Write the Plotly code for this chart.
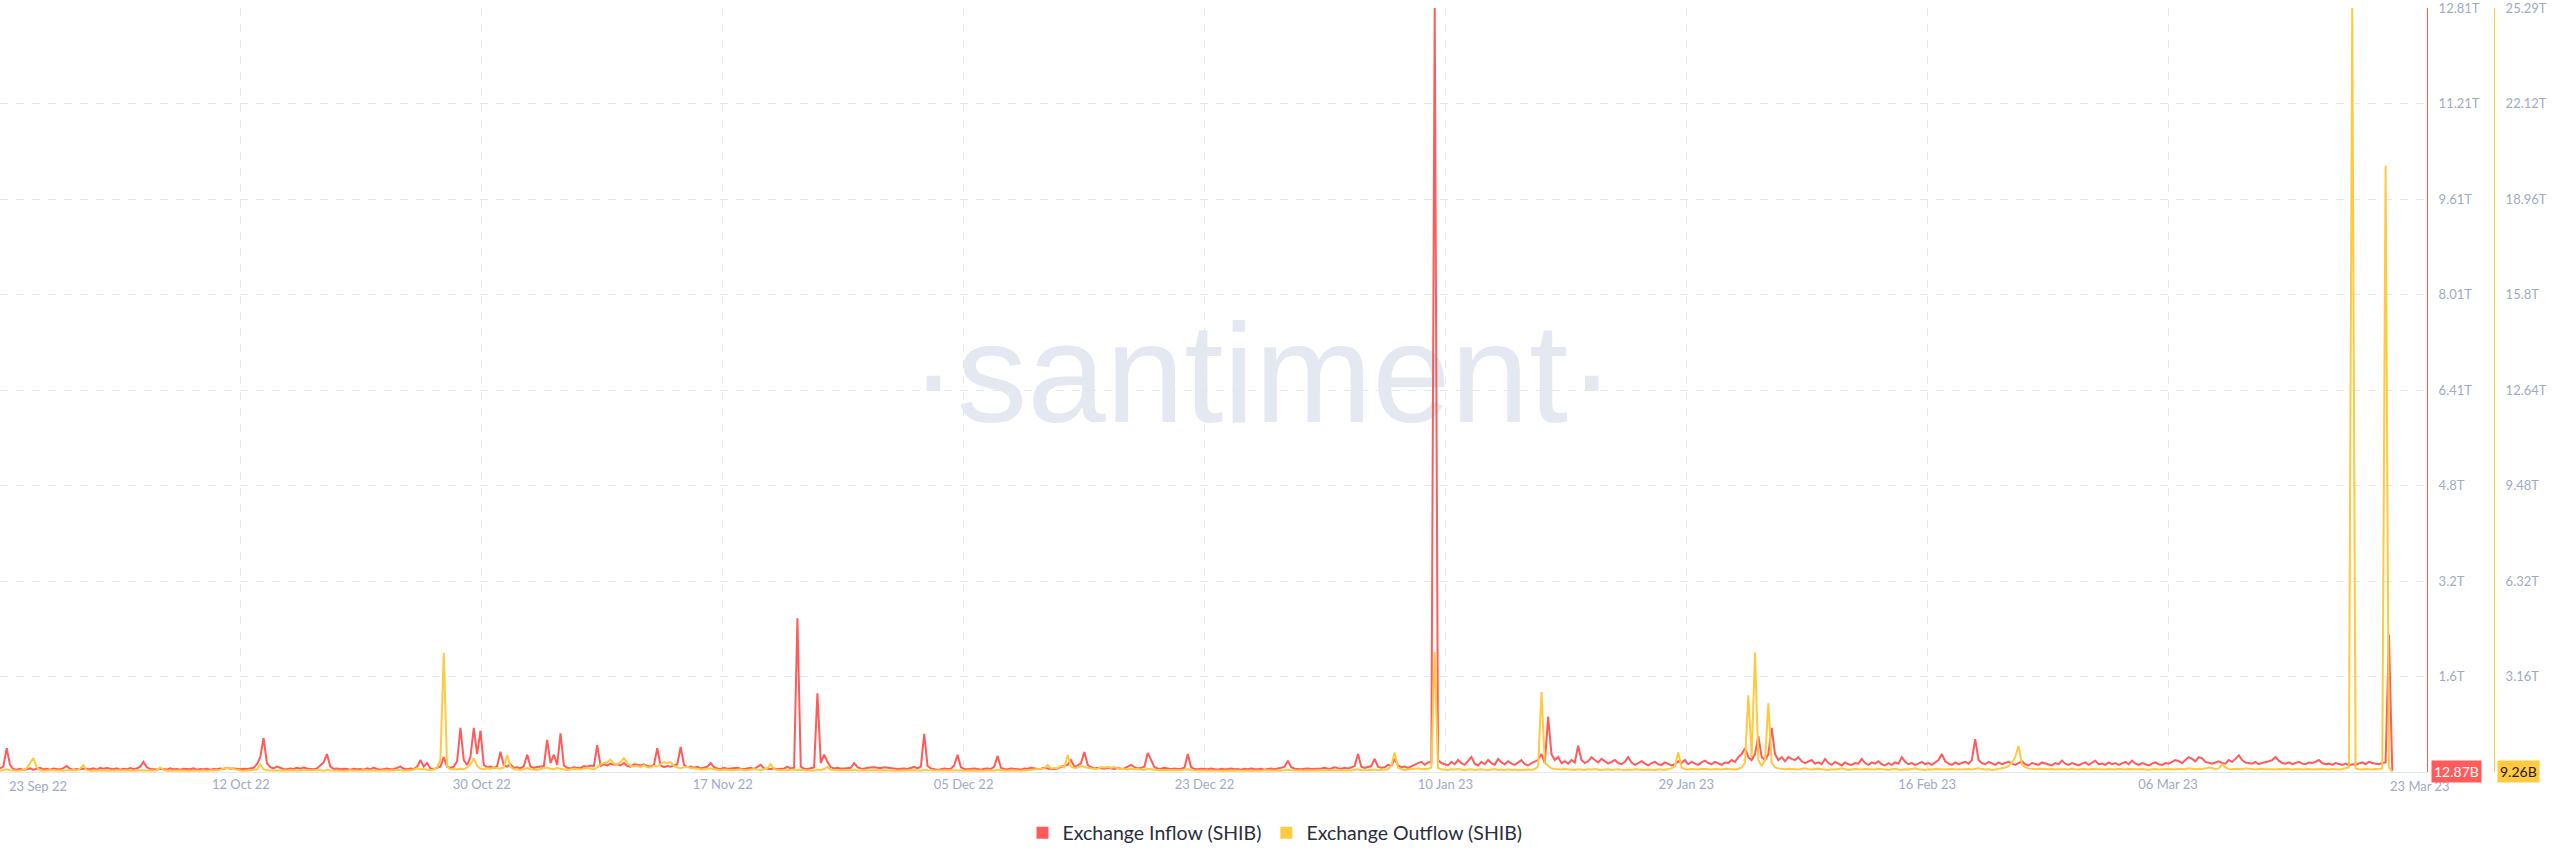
import plotly.graph_objects as go
import pandas as pd

# ---------------- data (values in billions of SHIB, 6-hour steps) ----------------
START = "2022-09-24 12:00"
STEP = "6h"

inflow_sep = [60, 90, 400, 120, 50, 40, 55, 35, 45, 60, 40, 50, 70, 45, 55, 40, 60, 50, 45, 65,
              100, 55, 40, 50, 45, 60]
outflow_sep = [40, 55, 90, 60, 45, 40, 50, 70, 120, 300, 460, 160, 60, 45, 40, 55, 60, 45, 50, 40,
               60, 45, 55, 60, 110, 230]

inflow_oct = [55, 45, 60, 40, 70, 55, 65, 50, 45, 60,
              40, 55, 45, 65, 50, 60, 90, 170, 80, 50,
              45, 40, 55, 50, 40, 60, 45, 50, 40, 55,
              50, 45, 60, 40, 50, 45, 55, 40, 50, 45,
              60, 50, 70, 55, 60, 50, 45, 55, 50, 60,
              70, 130, 250, 570, 150, 80, 60, 90, 70, 50,
              45, 60, 50, 70, 55, 75, 60, 50, 45, 60,
              110, 160, 300, 90, 50, 60, 45, 55, 50, 40,
              55, 45, 50, 40, 60, 45, 75, 50, 40, 55,
              60, 45, 50, 70, 90, 55, 45, 60, 50, 85,
              200, 90, 150, 60, 50, 70, 90, 250, 85, 70,
              90, 180, 740, 200, 120, 250, 740, 300, 690, 120,
              80, 90, 70, 100]
outflow_oct = [60, 45, 50, 40, 55, 60, 45, 50, 40, 55,
               45, 50, 60, 40, 50, 45, 55, 60, 45, 50,
               40, 60, 150, 70, 45, 50, 40, 55, 45, 50,
               45, 40, 55, 50, 45, 60, 40, 50, 55, 45,
               70, 110, 130, 120, 90, 60, 50, 45, 55, 50,
               60, 80, 250, 90, 55, 45, 50, 40, 55, 45,
               50, 60, 45, 50, 40, 55, 60, 45, 50, 55,
               60, 45, 70, 50, 45, 55, 40, 50, 45, 60,
               50, 45, 40, 55, 50, 45, 60, 50, 40, 55,
               45, 60, 50, 70, 55, 45, 60, 50, 80, 120,
               90, 100, 70, 60, 80, 150, 400, 3940, 180, 90,
               100, 80, 110, 90, 150, 250, 460, 200, 110, 90,
               120, 100, 150, 130]

inflow_nov = [340, 110, 90, 130, 70, 80, 60, 100, 290, 90,
              70, 85, 90, 100, 540, 150, 290, 120, 650, 110,
              70, 60, 80, 70, 65, 100, 90, 110, 100, 450,
              100, 130, 110, 140, 120, 130, 110, 150, 100, 90,
              130, 120, 110, 130, 100, 90, 120, 400, 110, 80,
              100, 90, 110, 130, 420, 120, 80, 90, 70, 85,
              60, 70, 90, 150, 80, 60, 50, 70, 55, 60,
              65, 70, 55, 50, 60, 70, 50, 80, 120, 60,
              55, 50, 60, 45, 55, 60, 85, 60, 70, 2580,
              90, 55, 50, 60, 75, 1320, 150, 290, 170, 80,
              60, 70, 55, 60, 65, 70, 150, 80, 60, 55,
              70, 75, 80, 70, 65, 80, 70, 60, 55, 50]
outflow_nov = [110, 150, 560, 180, 90, 80, 70, 100, 130, 90,
               80, 70, 100, 120, 150, 110, 90, 130, 100, 80,
               70, 90, 110, 100, 80, 120, 140, 110, 90, 150,
               250, 300, 330, 400, 280, 250, 330, 460, 300, 200,
               180, 200, 170, 220, 160, 150, 200, 180, 250, 330,
               300, 330, 200, 150, 130, 160, 170, 130, 110, 100,
               90, 80, 100, 120, 90, 70, 60, 80, 60, 55,
               60, 70, 90, 60, 55, 80, 100, 70, 60, 90,
               120, 265, 100, 60, 50, 55, 60, 70, 80, 60,
               70, 55, 50, 60, 45, 80, 60, 100, 165, 70,
               55, 60, 50, 45, 55, 60, 70, 50, 45, 50,
               45, 50, 60, 55, 50, 45, 55, 60, 50, 45]

inflow_dec = [55, 60, 50, 70, 85, 60, 90, 640, 100, 60,
              50, 35, 45, 60, 50, 55, 110, 290, 80, 50,
              45, 55, 60, 50, 40, 55, 60, 50, 90, 270,
              70, 50, 45, 60, 55, 50, 40, 60, 55, 70,
              60, 50, 55, 70, 60, 45, 50, 60, 85, 100,
              120, 200, 90, 110, 150, 335, 120, 80, 60, 70,
              60, 55, 70, 60, 50, 65, 55, 60, 85, 120,
              80, 60, 70, 90, 320, 200, 80, 60, 55, 70,
              55, 45, 60, 50, 55, 70, 300, 80, 50, 45,
              55, 50, 45, 60, 50, 40, 55, 45, 50, 60,
              45, 50, 40, 55, 45, 60, 50, 45, 55, 40,
              50, 60, 45, 55, 70, 90, 190, 80, 55, 50,
              45, 55, 60, 50]
outflow_dec = [45, 50, 55, 45, 50, 60, 45, 70, 55, 50,
               45, 40, 50, 55, 45, 50, 60, 45, 50, 40,
               50, 45, 55, 40, 50, 45, 60, 50, 45, 70,
               55, 50, 45, 60, 50, 55, 45, 50, 60, 70,
               80, 90, 100, 120, 230, 110, 130, 130, 200, 150,
               560, 180, 130, 150, 200, 160, 140, 120, 100, 110,
               165, 150, 165, 140, 165, 120, 100, 90, 80, 110,
               90, 100, 80, 70, 110, 90, 80, 60, 70, 65,
               60, 55, 70, 60, 55, 80, 90, 60, 55, 50,
               45, 50, 55, 45, 50, 40, 45, 50, 55, 45,
               40, 50, 45, 55, 50, 45, 40, 50, 45, 55,
               50, 45, 55, 50, 45, 60, 70, 55, 50, 45,
               50, 55, 45, 50]

inflow_jan = [50, 55, 60, 70, 55, 60, 80, 65, 55, 70,
              60, 75, 100, 300, 90, 70, 80, 100, 220, 90,
              70, 80, 120, 100, 220, 110, 80, 90, 70, 100,
              130, 150, 170, 120, 160, 170, 12812, 200, 150, 130,
              110, 170, 130, 200, 150, 120, 180, 250, 140, 110,
              170, 130, 200, 150, 120, 220, 160, 130, 180, 140,
              120, 160, 200, 130, 110, 150, 170, 200, 300, 150,
              930, 300, 200, 250, 150, 180, 140, 200, 160, 440,
              200, 150, 180, 250, 200, 160, 220, 180, 140, 170,
              200, 150, 130, 170, 250, 160, 120, 150, 180, 140,
              110, 150, 170, 130, 120, 160, 140, 110, 130, 180,
              150, 200, 130, 170, 140, 120, 160, 190, 150, 130,
              170, 140, 120, 160]
outflow_jan = [50, 45, 55, 60, 50, 45, 55, 60, 50, 55,
               60, 50, 70, 90, 60, 55, 65, 70, 80, 60,
               70, 60, 90, 200, 650, 150, 90, 70, 80, 90,
               100, 120, 90, 110, 100, 150, 3970, 130, 90, 80,
               70, 90, 80, 100, 70, 60, 80, 90, 70, 80,
               90, 70, 60, 80, 100, 70, 80, 60, 90, 70,
               80, 60, 70, 90, 80, 70, 100, 180, 2650, 300,
               200, 120, 100, 90, 80, 100, 90, 80, 70, 90,
               80, 70, 90, 80, 100, 70, 60, 80, 90, 70,
               80, 90, 70, 60, 80, 70, 90, 80, 60, 70,
               80, 70, 60, 90, 80, 70, 100, 120, 200, 650,
               150, 90, 80, 100, 90, 80, 110, 100, 90, 80,
               100, 90, 80, 110]

inflow_feb = [150, 200, 170, 250, 300, 400, 250, 200, 300, 600,
              250, 200, 300, 740, 300, 200, 250, 180, 250, 220,
              200, 250, 180, 150, 170, 200, 140, 160, 130, 220,
              150, 120, 170, 140, 110, 160, 130, 120, 150, 140,
              220, 150, 120, 160, 140, 180, 130, 110, 150, 120,
              160, 140, 250, 170, 130, 150, 120, 140, 170, 130,
              150, 120, 160, 200, 300, 180, 140, 120, 160, 130,
              150, 170, 140, 200, 550, 200, 150, 130, 170, 140,
              120, 160, 130, 150, 170, 140, 120, 150, 180, 130,
              110, 150, 130, 120, 160, 140, 130, 110, 150, 130,
              190, 140, 120, 150, 130, 110, 140, 160, 120, 150,
              190, 130]
outflow_feb = [100, 90, 80, 110, 150, 300, 2540, 500, 3950, 400,
               200, 400, 2270, 300, 150, 120, 100, 90, 110, 100,
               90, 80, 100, 120, 90, 80, 100, 110, 90, 80,
               70, 90, 80, 100, 120, 90, 70, 80, 100, 90,
               80, 100, 90, 70, 80, 110, 90, 80, 70, 90,
               100, 80, 70, 90, 80, 100, 120, 90, 80, 70,
               90, 80, 100, 90, 70, 80, 90, 100, 80, 70,
               80, 90, 100, 80, 90, 120, 100, 80, 90, 70,
               80, 100, 120, 150, 200, 300, 500, 860, 250, 150,
               120, 100, 90, 110, 100, 80, 90, 100, 80, 90,
               100, 90, 80, 110, 90, 80, 100, 90, 80, 100,
               90, 80]

inflow_mar = [140, 120, 160, 130, 150, 120, 140, 170, 130, 190,
              140, 120, 150, 130, 110, 140, 160, 130, 120, 150,
              140, 170, 200, 180, 150, 200, 250, 220, 180, 250,
              230, 170, 150, 140, 160, 180, 150, 140, 200, 170,
              220, 280, 200, 160, 150, 140, 170, 130, 150, 160,
              180, 200, 250, 190, 150, 140, 160, 130, 150, 170,
              140, 130, 160, 150, 170, 200, 150, 130, 140, 120,
              150, 130, 120, 140, 110, 130, 120, 140, 160, 130,
              170, 150, 140, 130, 150, 160, 2300, 12.87]
outflow_mar = [90, 80, 100, 90, 80, 110, 90, 80, 100, 90,
               80, 90, 100, 80, 70, 90, 100, 80, 90, 110,
               100, 90, 80, 110, 100, 90, 120, 100, 90, 110,
               100, 120, 150, 130, 100, 120, 250, 150, 100, 90,
               110, 100, 90, 120, 100, 90, 80, 100, 110, 90,
               100, 90, 80, 100, 90, 110, 100, 80, 90, 100,
               80, 90, 100, 80, 90, 80, 100, 90, 80, 100,
               90, 80, 100, 120, 150, 25285, 120, 90, 80, 100,
               90, 80, 100, 90, 120, 20060, 150, 9.26]

x_tick_labels = ["", "12 Oct 22", "30 Oct 22", "17 Nov 22", "05 Dec 22", "23 Dec 22",
                 "10 Jan 23", "29 Jan 23", "16 Feb 23", "06 Mar 23"]
x_first_label = "23 Sep 22"
x_last_label = "23 Mar 23"
inflow_tick_labels = ["1.6T", "3.2T", "4.8T", "6.41T", "8.01T", "9.61T", "11.21T", "12.81T"]
outflow_tick_labels = ["3.16T", "6.32T", "9.48T", "12.64T", "15.8T", "18.96T", "22.12T", "25.29T"]
INFLOW_MAX = 12812.0     # billions
OUTFLOW_MAX = 25285.3    # billions
last_inflow_text = "12.87B"
last_outflow_text = "9.26B"
inflow_name = "Exchange Inflow (SHIB)"
outflow_name = "Exchange Outflow (SHIB)"

inflow = inflow_sep + inflow_oct + inflow_nov + inflow_dec + inflow_jan + inflow_feb + inflow_mar
outflow = outflow_sep + outflow_oct + outflow_nov + outflow_dec + outflow_jan + outflow_feb + outflow_mar
assert len(inflow) == len(outflow), (len(inflow), len(outflow))
dates = pd.date_range(START, periods=len(inflow), freq=STEP)

# ---------------- styling ----------------
RED = "#FF5B5B"
YELLOW = "#FFC940"
GRID = "#E3E7F0"
TICK = "#9FAAC4"
FONT = "Lato, 'Open Sans', sans-serif"
W, H = 2560, 867
ML, MR, MT, MB = 0, 20, 8, 95
PW = W - ML - MR
PH = H - MT - MB
PLOT_RIGHT = 2427
PX_PER_DAY = 13.346
t0 = pd.Timestamp(START)
x_end = t0 + pd.Timedelta(days=PLOT_RIGHT / PX_PER_DAY)
tick_vals = [t0 + pd.Timedelta(days=18.05 * k) for k in range(len(x_tick_labels))]


def py(pix):
    """page pixel row -> paper y"""
    return (H - MB - pix) / PH


fig = go.Figure()
fig.add_trace(go.Scatter(x=dates, y=inflow, mode="lines", line=dict(color=RED, width=2),
                         name=inflow_name, showlegend=False, yaxis="y"))
fig.add_trace(go.Scatter(x=dates, y=outflow, mode="lines", line=dict(color=YELLOW, width=2),
                         name=outflow_name, showlegend=False, yaxis="y2"))
# legend entries with square swatches
fig.add_trace(go.Scatter(x=[None], y=[None], mode="markers",
                         marker=dict(symbol="square", size=12, color=RED), name=inflow_name))
fig.add_trace(go.Scatter(x=[None], y=[None], mode="markers",
                         marker=dict(symbol="square", size=12, color=YELLOW), name=outflow_name))

fig.update_layout(
    width=W, height=H,
    margin=dict(l=ML, r=MR, t=MT, b=MB),
    paper_bgcolor="white", plot_bgcolor="white",
    font=dict(family=FONT, size=13, color=TICK),
    legend=dict(orientation="h", xref="container", yref="container",
                x=1275 / W, y=1 - 833 / H, xanchor="center", yanchor="middle",
                font=dict(family=FONT, size=19.5, color="#2A2E3D"), itemclick=False),
    xaxis=dict(domain=[0, PLOT_RIGHT / PW], type="date", range=[t0, x_end],
               tickmode="array", tickvals=tick_vals, ticktext=x_tick_labels,
               showgrid=True, gridcolor=GRID, griddash="8px,8px", gridwidth=1,
               showline=True, linecolor=GRID, linewidth=1, ticks="", zeroline=False,
               tickfont=dict(family=FONT, size=13, color=TICK)),
    yaxis=dict(side="right", anchor="x", range=[0, INFLOW_MAX],
               tickmode="array", tickvals=[INFLOW_MAX * k / 8 for k in range(1, 9)],
               ticktext=inflow_tick_labels,
               showgrid=True, gridcolor=GRID, griddash="8px,8px", gridwidth=1,
               showline=True, linecolor=RED, linewidth=1, zeroline=False, ticks="",
               ticklabelstandoff=8, ticklabeloverflow="allow",
               tickfont=dict(family=FONT, size=13, color=TICK)),
    yaxis2=dict(side="right", anchor="free", overlaying="y", position=2494 / PW,
                range=[0, OUTFLOW_MAX],
                tickmode="array", tickvals=[OUTFLOW_MAX * k / 8 for k in range(1, 9)],
                ticktext=outflow_tick_labels,
                showgrid=False, showline=True, linecolor=YELLOW, linewidth=1,
                zeroline=False, ticks="", ticklabelstandoff=8, ticklabeloverflow="allow",
                tickfont=dict(family=FONT, size=13, color=TICK)),
)

# watermark behind the data
fig.add_shape(type="rect", xref="paper", yref="paper",
              x0=928 / PW, x1=1597 / PW,
              y0=py(425), y1=py(295),
              line=dict(width=0), fillcolor="rgba(0,0,0,0)", layer="below",
              label=dict(text="·santiment·", textposition="middle center",
                         font=dict(family="'Liberation Sans', Arial, sans-serif",
                                   size=141, color="#E4E8F1")))

# end-of-axis date labels
fig.add_annotation(text=x_first_label, xref="paper", yref="paper", x=7 / PW, y=py(786),
                   xanchor="left", yanchor="middle", showarrow=False,
                   font=dict(family=FONT, size=13, color=TICK))
fig.add_annotation(text=x_last_label, xref="paper", yref="paper", x=2420 / PW, y=py(786),
                   xanchor="center", yanchor="middle", showarrow=False,
                   font=dict(family=FONT, size=13, color=TICK))

# last value badges
fig.add_annotation(text=last_inflow_text, xref="paper", yref="y", x=2431 / PW, y=inflow[-1],
                   xanchor="left", yanchor="middle", showarrow=False, bgcolor=RED, borderpad=2,
                   font=dict(family=FONT, size=14, color="white"))
fig.add_annotation(text=last_outflow_text, xref="paper", yref="y2", x=2497 / PW, y=outflow[-1],
                   xanchor="left", yanchor="middle", showarrow=False, bgcolor=YELLOW, borderpad=2,
                   font=dict(family=FONT, size=14, color="#1A1A1A"))

fig.write_html("out.html", config={"displayModeBar": False},
               post_script="document.body.style.margin='0px';")
